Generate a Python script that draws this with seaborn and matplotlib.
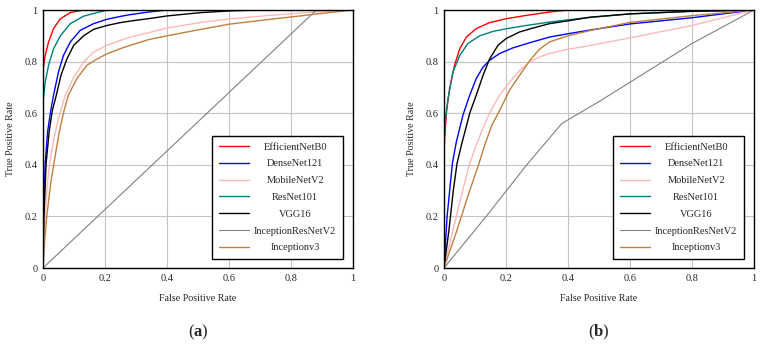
import numpy as np
import pandas as pd
import matplotlib
matplotlib.use('Agg')
import matplotlib.pyplot as plt
import seaborn as sns

models = ['EfficientNetB0', 'DenseNet121', 'MobileNetV2', 'ResNet101',
          'VGG16', 'InceptionResNetV2', 'Inceptionv3']
colors = ['#ff0000', '#0000ff', '#ffb8b8', '#008080',
          '#000000', '#808080', '#bf8040']
widths = [1.0, 1.0, 1.0, 1.0, 1.0, 0.8, 1.0]

# panel (a): fpr / tpr
fpr_a_effnet = [0, 0.007, 0.018, 0.034, 0.056, 0.088, 0.131, 1]
tpr_a_effnet = [0.766, 0.824, 0.876, 0.928, 0.966, 0.99, 1, 1]
fpr_a_dense = [0, 0.002, 0.007, 0.015, 0.025, 0.034, 0.05, 0.066, 0.088, 0.12, 0.163,
               0.206, 0.249, 0.281, 0.34, 0.4, 1]
tpr_a_dense = [0, 0.21, 0.405, 0.53, 0.61, 0.67, 0.76, 0.824, 0.876, 0.921, 0.947,
               0.964, 0.975, 0.982, 0.992, 1, 1]
fpr_a_mobile = [0, 0.005, 0.012, 0.021, 0.035, 0.05, 0.072, 0.099, 0.131, 0.163, 0.206,
                0.249, 0.281, 0.34, 0.4, 0.51, 0.6, 0.72, 0.85, 1]
tpr_a_mobile = [0, 0.15, 0.3, 0.4, 0.5, 0.58, 0.67, 0.74, 0.798, 0.837, 0.863,
                0.882, 0.895, 0.912, 0.93, 0.952, 0.965, 0.978, 0.99, 1]
fpr_a_resnet = [0, 0.007, 0.018, 0.034, 0.056, 0.088, 0.131, 0.174, 0.211, 1]
tpr_a_resnet = [0.64, 0.72, 0.786, 0.85, 0.9, 0.947, 0.976, 0.99, 1, 1]
fpr_a_vgg = [0, 0.003, 0.01, 0.02, 0.03, 0.043, 0.058, 0.077, 0.099, 0.131, 0.163, 0.206,
             0.249, 0.281, 0.35, 0.4, 0.51, 0.61, 0.71, 1]
tpr_a_vgg = [0, 0.2, 0.405, 0.53, 0.61, 0.67, 0.747, 0.81, 0.863, 0.9, 0.925, 0.94,
             0.951, 0.957, 0.968, 0.977, 0.99, 0.997, 1, 1]
fpr_a_incres = [0, 0.882, 1]
tpr_a_incres = [0, 1, 1]
fpr_a_incv3 = [0, 0.005, 0.013, 0.025, 0.04, 0.053, 0.068, 0.082, 0.109, 0.142, 0.174,
               0.206, 0.249, 0.281, 0.34, 0.4, 0.51, 0.6, 0.72, 0.85, 1]
tpr_a_incv3 = [0, 0.1, 0.21, 0.33, 0.44, 0.53, 0.61, 0.67, 0.734, 0.786, 0.81,
               0.83, 0.85, 0.863, 0.885, 0.9, 0.925, 0.945, 0.962, 0.98, 1]

# panel (b)
fpr_b_effnet = [0, 0.003, 0.008, 0.018, 0.034, 0.051, 0.072, 0.104, 0.147, 0.2, 0.265, 0.34, 0.4, 1]
tpr_b_effnet = [0.45, 0.52, 0.605, 0.695, 0.786, 0.85, 0.895, 0.928, 0.951, 0.966, 0.979, 0.992, 1, 1]
fpr_b_dense = [0, 0.01, 0.027, 0.04, 0.061, 0.083, 0.104, 0.126, 0.147, 0.179, 0.222, 0.276,
               0.34, 0.4, 0.47, 0.6, 0.8, 1]
tpr_b_dense = [0, 0.2, 0.405, 0.49, 0.592, 0.67, 0.734, 0.779, 0.805, 0.831, 0.853, 0.873,
               0.895, 0.908, 0.922, 0.946, 0.97, 1]
fpr_b_mobile = [0, 0.029, 0.06, 0.083, 0.104, 0.125, 0.147, 0.179, 0.212, 0.244, 0.276, 0.308,
                0.34, 0.4, 0.47, 0.6, 0.8, 1]
tpr_b_mobile = [0, 0.147, 0.3, 0.405, 0.476, 0.54, 0.6, 0.67, 0.721, 0.766, 0.798, 0.818,
                0.831, 0.848, 0.862, 0.892, 0.94, 1]
fpr_b_resnet = [0, 0.005, 0.013, 0.029, 0.051, 0.077, 0.115, 0.158, 0.2, 0.265, 0.34, 0.4,
                0.47, 0.6, 0.8, 1]
tpr_b_resnet = [0.5, 0.58, 0.657, 0.76, 0.824, 0.87, 0.9, 0.917, 0.927, 0.94, 0.953, 0.962,
                0.971, 0.985, 0.995, 1]
fpr_b_vgg = [0, 0.016, 0.03, 0.042, 0.056, 0.07, 0.083, 0.104, 0.126, 0.147, 0.174, 0.2,
             0.244, 0.287, 0.34, 0.4, 0.47, 0.6, 0.8, 1]
tpr_b_vgg = [0, 0.147, 0.3, 0.405, 0.476, 0.54, 0.6, 0.67, 0.747, 0.81, 0.863, 0.889,
             0.915, 0.93, 0.947, 0.958, 0.972, 0.985, 0.995, 1]
fpr_b_incres = [0, 0.136, 0.267, 0.38, 0.5, 0.6, 0.7, 0.8, 0.9, 1]
tpr_b_incres = [0, 0.2, 0.4, 0.56, 0.645, 0.72, 0.795, 0.87, 0.935, 1]
fpr_b_incv3 = [0, 0.042, 0.08, 0.113, 0.131, 0.155, 0.175, 0.212, 0.244, 0.276, 0.308,
               0.34, 0.4, 0.47, 0.6, 0.8, 1]
tpr_b_incv3 = [0, 0.147, 0.29, 0.405, 0.476, 0.555, 0.6, 0.69, 0.747, 0.803, 0.848,
               0.876, 0.9, 0.92, 0.952, 0.978, 1]

panel_a = [(fpr_a_effnet, tpr_a_effnet), (fpr_a_dense, tpr_a_dense), (fpr_a_mobile, tpr_a_mobile),
           (fpr_a_resnet, tpr_a_resnet), (fpr_a_vgg, tpr_a_vgg), (fpr_a_incres, tpr_a_incres),
           (fpr_a_incv3, tpr_a_incv3)]
panel_b = [(fpr_b_effnet, tpr_b_effnet), (fpr_b_dense, tpr_b_dense), (fpr_b_mobile, tpr_b_mobile),
           (fpr_b_resnet, tpr_b_resnet), (fpr_b_vgg, tpr_b_vgg), (fpr_b_incres, tpr_b_incres),
           (fpr_b_incv3, tpr_b_incv3)]

ticks = [0, 0.2, 0.4, 0.6, 0.8, 1]
tick_labels = ['0', '0.2', '0.4', '0.6', '0.8', '1']

sns.set_theme(style='whitegrid')
plt.rcParams['font.family'] = ['Liberation Serif', 'DejaVu Serif']
plt.rcParams['mathtext.fontset'] = 'custom'
plt.rcParams['mathtext.rm'] = 'Liberation Serif'
plt.rcParams['mathtext.bf'] = 'Liberation Serif:bold'

fig = plt.figure(figsize=(7.61, 3.6), dpi=100)
ax_a = fig.add_axes([43/761, 92/360, 310/761, 258/360])
ax_b = fig.add_axes([444/761, 92/360, 310/761, 258/360])

legends = []
for ax, panel, cap in [(ax_a, panel_a, 'a'), (ax_b, panel_b, 'b')]:
    for (x, y), name, c, lw in zip(panel, models, colors, widths):
        sns.lineplot(x=x, y=y, ax=ax, color=c, linewidth=lw, label=name)
    ax.set_xlim(0, 1)
    ax.set_ylim(0, 1)
    ax.set_xticks(ticks)
    ax.set_yticks(ticks)
    ax.set_xticklabels(tick_labels, fontsize=7.5)
    ax.set_yticklabels(tick_labels, fontsize=7.5)
    ax.tick_params(axis='both', length=0, pad=4)
    ax.grid(True, color='#c4c4c4', linewidth=0.8)
    for s in ax.spines.values():
        s.set_edgecolor('black')
        s.set_linewidth(1.0)
    ax.set_xlabel('False Positive Rate', fontsize=7.2, labelpad=8)
    ax.set_ylabel('True Positive Rate', fontsize=7.2, labelpad=7)
    leg = ax.legend(loc='lower right', bbox_to_anchor=(0.968, 0.034),
                    borderaxespad=0, fontsize=7.5, frameon=True, fancybox=False,
                    edgecolor='black', framealpha=1, handlelength=2.9,
                    labelspacing=0.72, handletextpad=0.5, borderpad=0.65)
    leg.get_frame().set_linewidth(1.0)
    legends.append(leg)
    box = ax.get_position()
    fig.text(box.x0 + box.width / 2, 28/360, r'($\mathbf{' + cap + r'}$)',
             ha='center', va='center', fontsize=12)

# centre the legend labels in their column, like the original
fig.canvas.draw()
renderer = fig.canvas.get_renderer()
for leg in legends:
    texts = leg.get_texts()
    w = [t.get_window_extent(renderer).width for t in texts]
    for t, wi in zip(texts, w):
        t.set_x((max(w) - wi) / 2)

fig.savefig('out.png', dpi=100)
